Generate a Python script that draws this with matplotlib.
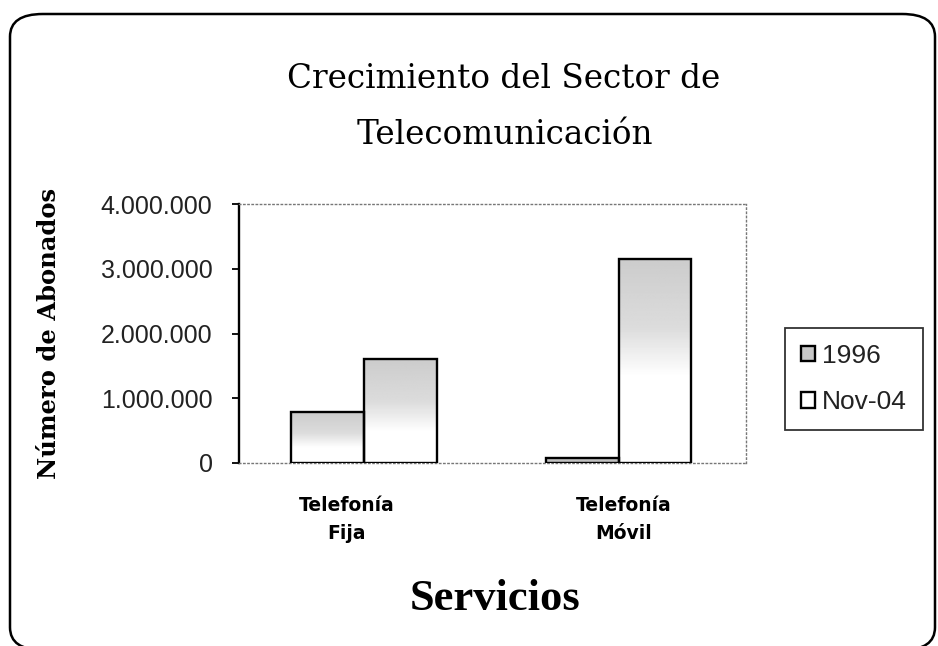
import matplotlib
matplotlib.use("Agg")
import matplotlib.pyplot as plt
import matplotlib.transforms as mtransforms
import numpy as np
from matplotlib.patches import FancyBboxPatch
from matplotlib.ticker import FuncFormatter

categories = ["Telefonía\nFija", "Telefonía\nMóvil"]
series_names = ["1996", "Nov-04"]
values_1996 = [780000, 70000]
values_nov04 = [1600000, 3150000]
yticks = [0, 1000000, 2000000, 3000000, 4000000]

W, H = 938, 646
fig = plt.figure(figsize=(W / 100, H / 100), dpi=100)
fig.patch.set_facecolor("white")

# outer rounded frame
frame = FancyBboxPatch((10 / W, -4 / H), 925 / W, (H - 14 + 4) / H,
                       boxstyle="round,pad=0,rounding_size=0.035",
                       transform=fig.transFigure, facecolor="none", edgecolor="black", lw=1.8)
fig.patches.append(frame)

ax = fig.add_axes([239 / W, 1 - 463 / H, 507 / W, 259 / H])
x = np.arange(len(categories))
w = 0.286
bars1 = ax.bar(x - w / 2, values_1996, w, facecolor="white", edgecolor="black", lw=1.7,
               label=series_names[0], zorder=3)
bars2 = ax.bar(x + w / 2, values_nov04, w, facecolor="white", edgecolor="black", lw=1.7,
               label=series_names[1], zorder=3)

for b in list(bars1) + list(bars2):
    x0, y0 = b.get_x(), b.get_y()
    bw, bh = b.get_width(), b.get_height()
    g = np.concatenate([np.linspace(0.80, 0.86, 40), np.linspace(0.86, 1.0, 30), np.ones(30)]).reshape(-1, 1)
    top = y0 + bh
    if bh > 200000:
        lo = top - min(bh, 2600000)
    else:
        lo = y0
        g = np.full((2, 1), 0.75)
    im = ax.imshow(g, cmap="gray", vmin=0, vmax=1, extent=(x0, x0 + bw, lo, top),
                   aspect="auto", origin="upper", zorder=3.5, interpolation="bilinear")
    im.set_clip_path(b)
    b.set_zorder(4)
    b.set_facecolor("none")

ax.set_xlim(-0.49, 1.5)
ax.set_ylim(0, 4000000)
ax.set_yticks(yticks)
ax.yaxis.set_major_formatter(FuncFormatter(lambda v, p: f"{int(v):,}".replace(",", ".")))
ax.set_xticks(x)
ax.set_xticklabels(categories, fontfamily="DejaVu Sans", fontweight="bold", fontsize=13.5, linespacing=1.6)
ax.tick_params(axis="x", length=0, pad=24)
ax.tick_params(axis="y", direction="out", length=5, width=1.3, pad=14, labelsize=18)
for lab in ax.get_yticklabels():
    lab.set_fontfamily("Liberation Sans")
    lab.set_color("#222222")
shifts = [-17, 5]
for lab, dx in zip(ax.get_xticklabels(), shifts):
    lab.set_transform(lab.get_transform() + mtransforms.ScaledTranslation(dx / 100, 0, fig.dpi_scale_trans))

ax.spines["left"].set_linewidth(1.7)
for s in ["top", "right", "bottom"]:
    ax.spines[s].set_linestyle((0, (1, 2)))
    ax.spines[s].set_color("#777777")
    ax.spines[s].set_linewidth(1.0)

ax.set_ylabel("Número de Abonados", fontfamily="DejaVu Serif", fontweight="bold", fontsize=17.5)
ax.yaxis.set_label_coords(-0.352, 0.5)
ax.set_xlabel("Servicios", fontfamily="Liberation Serif", fontweight="bold", fontsize=32)
ax.xaxis.set_label_coords(0.505, (463 - 610) / 259)
ax.xaxis.label.set_va("baseline")

fig.text(504 / W, 1 - 88 / H, "Crecimiento del Sector de", ha="center", va="baseline",
         fontfamily="DejaVu Serif", fontsize=23.5)
fig.text(505 / W, 1 - 144 / H, "Telecomunicación", ha="center", va="baseline",
         fontfamily="DejaVu Serif", fontsize=23.5)

leg = ax.legend(loc="upper left", bbox_to_anchor=(785 / W, 1 - 328 / H), bbox_transform=fig.transFigure,
                borderaxespad=0, frameon=True, fancybox=False, edgecolor="black",
                prop={"family": "Liberation Sans", "size": 19}, handlelength=0.55, handleheight=0.55,
                handletextpad=0.25, borderpad=0.6, labelspacing=0.85)
leg.get_frame().set_linewidth(1.3)
handles = leg.legend_handles
handles[0].set_facecolor("#c8c8c8")
handles[0].set_edgecolor("black")
handles[1].set_facecolor("white")
handles[1].set_edgecolor("black")
for t in leg.get_texts():
    t.set_color("#222222")

fig.savefig("out.png", dpi=100, facecolor="white")
